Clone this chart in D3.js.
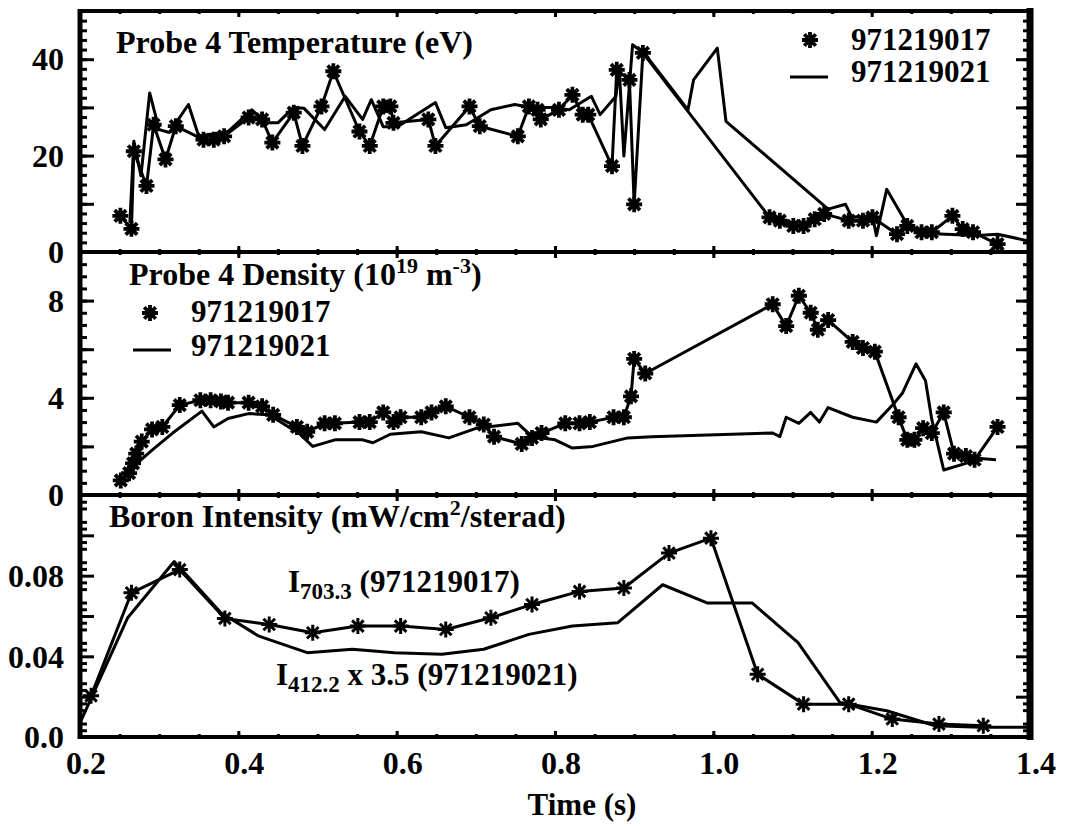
<!DOCTYPE html>
<html><head><meta charset="utf-8">
<script src="https://cdn.jsdelivr.net/npm/d3@7"></script>
<style>
html,body{margin:0;padding:0;background:#fff;}
svg text{font-family:"Liberation Serif","Times New Roman",serif;font-weight:bold;fill:#000;}
</style></head><body>
<svg id="c" width="1070" height="827"></svg>
<script>
// ---------- DATA ----------
// Panel 1: Probe 4 Temperature (eV)
const tempT017 = [0.251,0.265,0.268,0.284,0.293,0.308,0.321,0.356,0.369,0.382,0.413,0.430,0.443,0.470,0.481,0.505,0.520,0.553,0.566,0.583,0.592,0.596,0.640,0.649,0.692,0.705,0.753,0.767,0.778,0.782,0.805,0.822,0.835,0.842,0.872,0.878,0.894,0.900,0.911,1.071,1.084,1.101,1.114,1.128,1.140,1.171,1.189,1.201,1.232,1.245,1.263,1.276,1.302,1.315,1.328,1.359];
const tempV017 = [7.5,4.8,20.9,13.7,26.4,19.2,26.1,23.3,23.3,24,27.9,27.5,22.7,28.9,22,30.2,37.5,25,22,30.2,30.2,26.8,27.5,22,30.2,26.1,24,30.2,29.5,27.5,29.5,32.6,28.5,28.5,17.8,37.8,35.7,9.9,41.3,7.2,6.5,5.4,5.4,6.8,7.9,6.5,6.5,7.2,3.7,5.4,4.1,4.1,7.5,4.75,4.1,1.65];
const tempT021 = [0.263,0.268,0.277,0.288,0.300,0.313,0.337,0.350,0.387,0.417,0.435,0.450,0.470,0.483,0.509,0.535,0.557,0.568,0.583,0.601,0.649,0.662,0.688,0.719,0.749,0.770,0.796,0.818,0.846,0.857,0.877,0.881,0.887,0.898,0.914,0.968,0.975,1.005,1.016,1.145,1.167,1.175,1.201,1.206,1.219,1.241,1.258,1.293,1.333,1.359,1.398];
const tempV021 = [6,23,15.8,33,25.4,24.8,30.6,24,25,29.5,26.8,26.8,30,29.8,25.4,32.3,27.5,31.6,26,26,31,25.8,26.4,29.5,30.6,30,30,29.5,32.3,28.5,32.3,38.5,19.9,43,41,29.5,35.7,42.3,27.1,8.9,9.9,7.2,7.5,3.4,13,6.8,4,3.7,3.4,3.7,2.3];

// Panel 2: Probe 4 Density (1e19 m^-3)
const densT017 = [0.2515,0.262,0.267,0.271,0.278,0.291,0.304,0.326,0.352,0.365,0.378,0.387,0.413,0.430,0.444,0.474,0.487,0.509,0.522,0.553,0.566,0.583,0.596,0.605,0.631,0.644,0.662,0.692,0.710,0.723,0.758,0.771,0.783,0.813,0.831,0.844,0.874,0.887,0.896,0.900,0.914,1.075,1.092,1.108,1.123,1.132,1.145,1.176,1.189,1.204,1.234,1.245,1.254,1.265,1.276,1.291,1.304,1.319,1.330,1.359];
const densV017 = [0.6,0.9,1.3,1.7,2.2,2.7,2.8,3.7,3.9,3.9,3.85,3.8,3.8,3.65,3.3,2.8,2.6,2.95,2.95,3.0,3.0,3.4,3.0,3.2,3.2,3.4,3.65,3.2,2.9,2.4,2.1,2.35,2.55,2.95,2.95,3.0,3.2,3.2,4.06,5.6,5.0,7.85,6.95,8.2,7.5,6.8,7.2,6.3,6.05,5.9,3.2,2.27,2.27,2.75,2.55,3.4,1.7,1.6,1.45,2.8];
const densT021 = [0.258,0.291,0.317,0.354,0.369,0.387,0.413,0.439,0.478,0.494,0.522,0.557,0.570,0.592,0.631,0.666,0.701,0.753,0.771,0.800,0.822,0.848,0.892,0.922,1.075,1.084,1.092,1.108,1.123,1.134,1.145,1.176,1.206,1.229,1.239,1.256,1.268,1.276,1.291,1.319,1.337,1.357];
const densV021 = [0.9,1.85,2.55,3.45,2.8,3.15,3.35,3.3,2.5,2.0,2.27,2.27,2.15,2.5,2.6,2.35,2.75,2.95,2.4,2.27,1.93,2.0,2.35,2.4,2.55,2.4,3.2,2.95,3.4,3.0,3.6,3.2,3.0,3.8,4.2,5.4,4.7,3.1,1.03,1.3,1.5,1.45];

// Panel 3: Boron Intensity (mW/cm2/sterad)
const borT703 = [0.214,0.265,0.326,0.383,0.439,0.494,0.551,0.605,0.662,0.719,0.771,0.831,0.887,0.944,0.997,1.056,1.114,1.171,1.226,1.285,1.341];
const borV703 = [0.0204,0.0715,0.083,0.0588,0.0558,0.0517,0.055,0.055,0.0533,0.0591,0.0657,0.0722,0.0739,0.0912,0.0986,0.0311,0.0163,0.0163,0.0089,0.0064,0.0056];
const borT412 = [0.200,0.260,0.319,0.378,0.426,0.487,0.544,0.597,0.657,0.710,0.767,0.822,0.879,0.936,0.992,1.049,1.107,1.160,1.219,1.280,1.337,1.398];
const borV412 = [0.007,0.059,0.087,0.0616,0.050,0.0418,0.0435,0.0418,0.041,0.0435,0.0509,0.055,0.0566,0.0755,0.0665,0.0665,0.0468,0.0171,0.013,0.0056,0.0048,0.0048];

// Ticks / labels
const xTickLabels = ["0.2","0.4","0.6","0.8","1.0","1.2","1.4"];
const tempLabels = [0,20,40];
const densLabels = [0,4,8];
const borLabels = ["0.0","0.04","0.08"];
const legendNames = ["971219017","971219021"];

// ---------- LAYOUT ----------
const L = 80, R = 1030;
const svg = d3.select("#c");
const x = d3.scaleLinear().domain([0.2,1.4]).range([L,R]);
const yT = d3.scaleLinear().domain([0,50]).range([252,11]);
const yD = d3.scaleLinear().domain([0,10]).range([495,252]);
const yB = d3.scaleLinear().domain([0,0.12]).range([737,495]);

function rng(a,b,s){const o=[];for(let v=a;v<=b+1e-9;v+=s)o.push(+v.toFixed(6));return o;}

function yAxis(y, majors, minors){
  const defs = [[majors,14],[minors,7]];
  defs.forEach(([vals,len])=>{
    svg.append("g").attr("transform",`translate(${L},0)`)
      .call(d3.axisLeft(y).tickValues(vals).tickSize(-len).tickFormat(""))
      .call(g=>{g.select(".domain").remove();g.selectAll("line").attr("stroke","#000").attr("stroke-width",3);});
    svg.append("g").attr("transform",`translate(${R},0)`)
      .call(d3.axisRight(y).tickValues(vals).tickSize(-len).tickFormat(""))
      .call(g=>{g.select(".domain").remove();g.selectAll("line").attr("stroke","#000").attr("stroke-width",3);});
  });
}
function xAxis(yTop, yBot){
  const defs=[[rng(0.2,1.4,0.2),6],[rng(0.25,1.35,0.05),3]];
  defs.forEach(([vals,len])=>{
    svg.append("g").attr("transform",`translate(0,${yTop})`)
      .call(d3.axisTop(x).tickValues(vals).tickSize(-len).tickFormat(""))
      .call(g=>{g.select(".domain").remove();g.selectAll("line").attr("stroke","#000").attr("stroke-width",3);});
    svg.append("g").attr("transform",`translate(0,${yBot})`)
      .call(d3.axisBottom(x).tickValues(vals).tickSize(-len).tickFormat(""))
      .call(g=>{g.select(".domain").remove();g.selectAll("line").attr("stroke","#000").attr("stroke-width",3);});
  });
}

// ticks
yAxis(yT, rng(0,50,10), rng(0,50,2));
yAxis(yD, rng(0,10,2), rng(0,10,0.5));
yAxis(yB, rng(0,0.12,0.02), d3.range(0,37).map(i=>i*0.02/6).filter((v,i)=>i%3!==0));
xAxis(11,252); xAxis(252,495); xAxis(495,737);

// frame
const fr = svg.append("g").attr("stroke","#000");
fr.append("line").attr("x1",L).attr("x2",L).attr("y1",9).attr("y2",739).attr("stroke-width",5);
fr.append("line").attr("x1",R).attr("x2",R).attr("y1",8).attr("y2",740).attr("stroke-width",7);
[11,252,495,737].forEach(yy=>fr.append("line").attr("x1",L).attr("x2",R).attr("y1",yy).attr("y2",yy).attr("stroke-width",4));

// y labels
function yLabels(y, vals, texts){
  svg.append("g").selectAll("text").data(vals).join("text")
    .attr("x",64).attr("y",d=>y(d)).attr("dy","0.35em").attr("text-anchor","end")
    .attr("font-size",32).text((d,i)=>texts[i]);
}
yLabels(yT, tempLabels, tempLabels.map(String));
yLabels(yD, densLabels, densLabels.map(String));
yLabels(yB, [0,0.04,0.08], borLabels);

// x labels
svg.append("g").selectAll("text").data(xTickLabels).join("text")
  .attr("x",d=>x(+d)+6).attr("y",774).attr("text-anchor","middle").attr("font-size",32).text(d=>d);
svg.append("text").attr("x",582).attr("y",815).attr("text-anchor","middle").attr("font-size",31).text("Time (s)");

// series
const line = (y)=>d3.line().x(d=>x(d[0])).y(d=>y(d[1]));
const zip=(a,b)=>a.map((t,i)=>[t,b[i]]);
function star(s){const k=s*0.72;return `M${-s},0H${s}M0,${-s}V${s}M${-k},${-k}L${k},${k}M${-k},${k}L${k},${-k}`;}

function drawSeries(y, ts, vs, withStars, sw, ssz){
  const data = zip(ts,vs);
  svg.append("path").datum(data).attr("d",line(y)).attr("fill","none").attr("stroke","#000")
    .attr("stroke-width",3).attr("stroke-linejoin","round");
  if(withStars){
    svg.append("g").selectAll("path").data(data).join("path")
      .attr("transform",d=>`translate(${x(d[0])},${y(d[1])})`)
      .attr("d",star(ssz)).attr("stroke","#000").attr("stroke-width",sw).attr("fill","none");
  }
}
drawSeries(yT, tempT021, tempV021, false);
drawSeries(yT, tempT017, tempV017, true, 3.8, 8);
drawSeries(yD, densT021, densV021, false);
drawSeries(yD, densT017, densV017, true, 3.8, 8);
drawSeries(yB, borT412, borV412, false);
drawSeries(yB, borT703, borV703, true, 3, 8);

// titles
svg.append("text").attr("x",116).attr("y",53).attr("font-size",32).text("Probe 4 Temperature (eV)");
const t2 = svg.append("text").attr("x",129).attr("y",285).attr("font-size",32);
t2.append("tspan").text("Probe 4 Density (10");
t2.append("tspan").attr("font-size",22).attr("dy",-12).text("19");
t2.append("tspan").attr("dy",12).text(" m");
t2.append("tspan").attr("font-size",22).attr("dy",-12).text("-3");
t2.append("tspan").attr("dy",12).text(")");
const t3 = svg.append("text").attr("x",109).attr("y",527).attr("font-size",32);
t3.append("tspan").text("Boron Intensity (mW/cm");
t3.append("tspan").attr("font-size",22).attr("dy",-12).text("2");
t3.append("tspan").attr("dy",12).text("/sterad)");

// legends
function legend(mx,my,tx,ty1,lx1,lx2,ly,ty2){
  svg.append("path").attr("transform",`translate(${mx},${my})`).attr("d",star(8))
    .attr("stroke","#000").attr("stroke-width",3.8).attr("fill","none");
  svg.append("text").attr("x",tx).attr("y",ty1).attr("font-size",31).text(legendNames[0]);
  svg.append("line").attr("x1",lx1).attr("x2",lx2).attr("y1",ly).attr("y2",ly).attr("stroke","#000").attr("stroke-width",3);
  svg.append("text").attr("x",tx).attr("y",ty2).attr("font-size",31).text(legendNames[1]);
}
legend(810,40,851,50,790,828,77,82);
legend(150,313,191,322,133,171,350,356);

// boron annotations
const a1 = svg.append("text").attr("x",288).attr("y",592).attr("font-size",31);
a1.append("tspan").text("I");
a1.append("tspan").attr("font-size",23).attr("dy",7).text("703.3");
a1.append("tspan").attr("dy",-7).text(" (971219017)");
const a2 = svg.append("text").attr("x",276).attr("y",685).attr("font-size",31);
a2.append("tspan").text("I");
a2.append("tspan").attr("font-size",23).attr("dy",7).text("412.2");
a2.append("tspan").attr("dy",-7).text(" x 3.5 (971219021)");
</script>
</body></html>
